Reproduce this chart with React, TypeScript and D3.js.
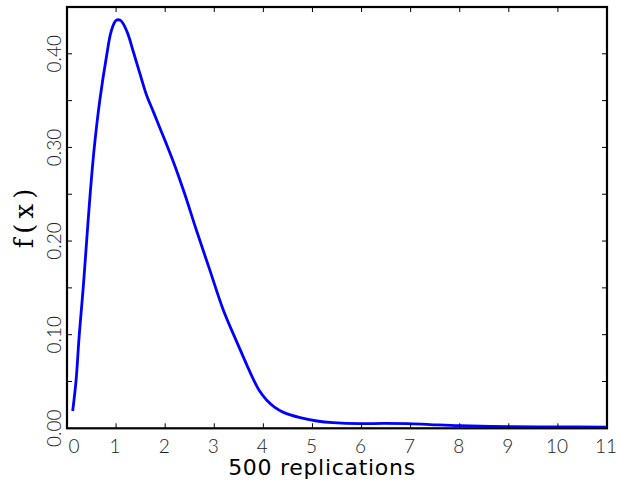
import React from "react";
import * as d3 from "d3";

const xs = [0.116, 0.183, 0.25, 0.33, 0.40, 0.47, 0.556, 0.67, 0.81, 0.90, 1.0, 1.09, 1.22, 1.35, 1.49, 1.62, 1.76, 1.89, 2.03, 2.20, 2.40, 2.64, 2.91, 3.18, 3.46, 3.66, 3.79, 3.92, 4.07, 4.22, 4.41, 4.75, 5.09, 5.42, 5.97, 6.44, 6.92, 7.4, 8.0, 9.08, 10.0, 11.0];
const ys = [0.0185, 0.05, 0.1, 0.15, 0.2, 0.249, 0.3, 0.351, 0.399, 0.424, 0.4357, 0.4357, 0.424, 0.4025, 0.378, 0.356, 0.338, 0.321, 0.303, 0.280, 0.250, 0.211, 0.169, 0.127, 0.092, 0.068, 0.053, 0.040, 0.030, 0.023, 0.017, 0.0113, 0.0078, 0.006, 0.0049, 0.0053, 0.005, 0.004, 0.0028, 0.0017, 0.0015, 0.0013];
const xTicks = [0, 1, 2, 3, 4, 5, 6, 7, 8, 9, 10, 11];
const yTicks = [0, 0.05, 0.1, 0.15, 0.2, 0.25, 0.3, 0.35, 0.4, 0.45];
const yLabelTicks = [0, 0.1, 0.2, 0.3, 0.4];
const xTitle = "500 replications";
const yTitle = "f(x)";

const W = 617, H = 489;
const L = 67, R = 607, T = 7, B = 428.3;
const tickFont = "Lato, 'Open Sans', sans-serif";

export default function App() {
  const x = d3.scaleLinear().domain([0, 11]).range([L, R]);
  const y = d3.scaleLinear().domain([0, 0.45]).range([B, T]);
  const pts = xs.map((v, i) => [v, ys[i]] as [number, number]);
  const line = d3.line<[number, number]>().x(d => x(d[0])).y(d => y(d[1])).curve(d3.curveCatmullRom.alpha(0.5));
  const tl = 5;
  return (
    <svg width={W} height={H} style={{ position: "absolute", left: 0, top: 0, background: "#fff" }}>
      <rect x={0} y={0} width={W} height={H} fill="#fff" />
      <path d={line(pts) || ""} fill="none" stroke="#0000ff" strokeWidth={2.8} strokeLinejoin="round" />
      {xTicks.map(t => (
        <g key={"xt" + t}>
          <line x1={x(t)} x2={x(t)} y1={B} y2={B - tl} stroke="#000" strokeWidth={1} />
          <line x1={x(t)} x2={x(t)} y1={T} y2={T + tl} stroke="#000" strokeWidth={1} />
          <text x={x(t) + (t === 0 ? 7 : -1)} y={446} dy="0.35em" textAnchor="middle" fontFamily={tickFont} fontWeight={300} fontSize={19} fill="#222">{t}</text>
        </g>
      ))}
      {yTicks.map(t => (
        <g key={"yt" + t}>
          <line x1={L} x2={L + tl} y1={y(t)} y2={y(t)} stroke="#000" strokeWidth={1} />
          <line x1={R} x2={R - tl} y1={y(t)} y2={y(t)} stroke="#000" strokeWidth={1} />
        </g>
      ))}
      {yLabelTicks.map(t => (
        <text key={"yl" + t} transform={`translate(54,${y(t)}) rotate(-90)`} dy="0.35em" textAnchor="middle" fontFamily={tickFont} fontWeight={300} fontSize={19} fill="#222">{t.toFixed(2)}</text>
      ))}
      <rect x={L} y={T} width={R - L} height={B - T} fill="none" stroke="#000" strokeWidth={2.2} />
      <text x={322} y={475} textAnchor="middle" fontFamily="'DejaVu Sans', sans-serif" fontSize={22} letterSpacing={0.7} fill="#000">{xTitle}</text>
      <text transform={`translate(33,216) rotate(-90)`} textAnchor="middle" fontFamily="'DejaVu Serif', serif" fontSize={26} letterSpacing={5} fill="#000">{yTitle}</text>
    </svg>
  );
}
